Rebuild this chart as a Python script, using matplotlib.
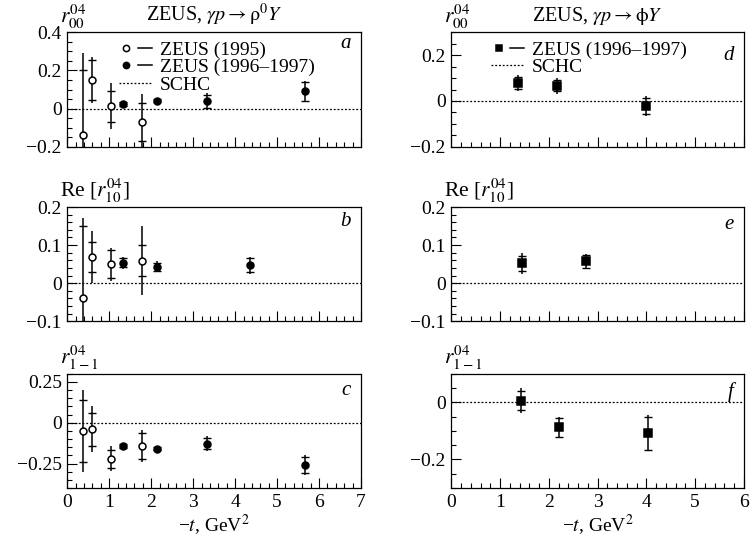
import matplotlib
matplotlib.use('Agg')
import matplotlib.pyplot as plt
from matplotlib.lines import Line2D
from matplotlib.legend_handler import HandlerTuple
from matplotlib.ticker import MultipleLocator, FuncFormatter

plt.rcParams['font.family'] = ['Liberation Serif', 'DejaVu Serif']
plt.rcParams['mathtext.fontset'] = 'stix'
plt.rcParams['font.size'] = 14

# rho0 photoproduction, ZEUS (1995), open circles
t95 = [0.37, 0.60, 1.04, 1.79]
r00_95 = [-0.14, 0.15, 0.012, -0.07]
r00_95_stat = [0.34, 0.105, 0.08, 0.10]
r00_95_tot = [0.43, 0.12, 0.12, 0.147]
r10_95 = [-0.04, 0.069, 0.05, 0.059]
r10_95_stat = [0.19, 0.04, 0.037, 0.04]
r10_95_tot = [0.21, 0.068, 0.043, 0.09]
r11_95 = [-0.05, -0.04, -0.22, -0.143]
r11_95_stat = [0.19, 0.10, 0.055, 0.077]
r11_95_tot = [0.25, 0.14, 0.078, 0.10]

# rho0 photoproduction, ZEUS (1996-1997), filled circles
t97_r00 = [1.33, 2.14, 3.32, 5.66]
r00_97 = [0.024, 0.042, 0.038, 0.09]
r00_97_stat = [0.012, 0.010, 0.035, 0.048]
r00_97_tot = [0.016, 0.014, 0.045, 0.055]
t97_r10 = [1.33, 2.14, 4.35]
r10_97 = [0.054, 0.043, 0.047]
r10_97_stat = [0.012, 0.010, 0.018]
r10_97_tot = [0.016, 0.014, 0.023]
t97_r11 = [1.33, 2.14, 3.32, 5.66]
r11_97 = [-0.145, -0.159, -0.128, -0.26]
r11_97_stat = [0.012, 0.010, 0.035, 0.05]
r11_97_tot = [0.02, 0.016, 0.045, 0.06]

# phi photoproduction, ZEUS (1996-1997), squares
tphi_r00 = [1.375, 2.16, 3.99]
r00_phi = [0.078, 0.067, -0.022]
r00_phi_stat = [0.025, 0.025, 0.035]
r00_phi_tot = [0.035, 0.035, 0.045]
tphi_r10 = [1.46, 2.76]
r10_phi = [0.052, 0.057]
r10_phi_stat = [0.02, 0.016]
r10_phi_tot = [0.027, 0.02]
tphi_r11 = [1.42, 2.2, 4.03]
r11_phi = [0.006, -0.087, -0.108]
r11_phi_stat = [0.033, 0.033, 0.058]
r11_phi_tot = [0.045, 0.036, 0.062]


def fmt(v, pos):
    if abs(v) < 1e-9:
        return '0'
    return ('%g' % v).replace('-', '\u2212')


def draw(ax, t, v, stat, tot, marker, face):
    ax.errorbar(t, v, yerr=tot, fmt='none', ecolor='k', elinewidth=1.1, capsize=0, zorder=2)
    ax.errorbar(t, v, yerr=stat, fmt='none', ecolor='k', elinewidth=0, capsize=2.6,
                capthick=1.0, zorder=2)
    ms = 5.5 if marker == 's' else 5
    ax.plot(t, v, ls='none', marker=marker, mfc=face, mec='k', mew=1.1, ms=ms, zorder=3)


def setup(ax, xmax, ylim, major, minor, ylabel, letter, ly, xlabels):
    ax.set_xlim(0, xmax)
    ax.set_ylim(*ylim)
    ax.axhline(0, color='k', lw=0.9, ls=(0, (1.5, 1.5)), zorder=1)
    ax.xaxis.set_major_locator(MultipleLocator(1))
    ax.xaxis.set_minor_locator(MultipleLocator(0.2))
    ax.yaxis.set_major_locator(MultipleLocator(major))
    ax.yaxis.set_minor_locator(MultipleLocator(minor))
    ax.yaxis.set_major_formatter(FuncFormatter(fmt))
    ax.tick_params(which='both', direction='in', top=False, right=False, width=0.8)
    ax.tick_params(which='major', length=7, pad=4)
    ax.tick_params(which='minor', length=3.5)
    if not xlabels:
        ax.tick_params(axis='x', labelbottom=False)
    else:
        ax.set_xlabel('\u2212$t$, GeV$^2$', labelpad=1)
    for s in ax.spines.values():
        s.set_linewidth(0.9)
    ax.text(-0.025, 1.015, ylabel, transform=ax.transAxes, ha='left', va='bottom',
            fontsize=15.5)
    ax.text(0.965, ly, letter, transform=ax.transAxes, ha='right', va='center',
            style='italic', fontsize=15)


fig = plt.figure(figsize=(7.53, 5.5), dpi=100)
lx, rx, w = 0.0894, 0.5993, 0.390
rows = [0.7333, 0.4158, 0.1127]
h = 0.2078

ax_a = fig.add_axes([lx, rows[0], w, h])
ax_b = fig.add_axes([lx, rows[1], w, h])
ax_c = fig.add_axes([lx, rows[2], w, h])
ax_d = fig.add_axes([rx, rows[0], 0.3887, h])
ax_e = fig.add_axes([rx, rows[1], 0.3887, h])
ax_f = fig.add_axes([rx, rows[2], 0.3887, h])

# rho0 panels
draw(ax_a, t95, r00_95, r00_95_stat, r00_95_tot, 'o', 'white')
draw(ax_a, t97_r00, r00_97, r00_97_stat, r00_97_tot, 'o', 'k')
draw(ax_b, t95, r10_95, r10_95_stat, r10_95_tot, 'o', 'white')
draw(ax_b, t97_r10, r10_97, r10_97_stat, r10_97_tot, 'o', 'k')
draw(ax_c, t95, r11_95, r11_95_stat, r11_95_tot, 'o', 'white')
draw(ax_c, t97_r11, r11_97, r11_97_stat, r11_97_tot, 'o', 'k')

setup(ax_a, 7, (-0.2, 0.4), 0.2, 0.05, '$r^{04}_{00}$', 'a', 0.9, False)
setup(ax_b, 7, (-0.1, 0.2), 0.1, 0.02, 'Re [$r^{04}_{10}$]', 'b', 0.87, False)
setup(ax_c, 7, (-0.4, 0.3), 0.25, 0.05, '$r^{04}_{1\u22121}$', 'c', 0.85, True)
ax_a.set_title(r'ZEUS, $\gamma p \rightarrow \mathrm{\rho}^0 Y$', pad=8, fontsize=14.5)

# phi panels
draw(ax_d, tphi_r00, r00_phi, r00_phi_stat, r00_phi_tot, 's', 'k')
draw(ax_e, tphi_r10, r10_phi, r10_phi_stat, r10_phi_tot, 's', 'k')
draw(ax_f, tphi_r11, r11_phi, r11_phi_stat, r11_phi_tot, 's', 'k')

setup(ax_d, 6, (-0.2, 0.3), 0.2, 0.05, '$r^{04}_{00}$', 'd', 0.8, False)
setup(ax_e, 6, (-0.1, 0.2), 0.1, 0.02, 'Re [$r^{04}_{10}$]', 'e', 0.85, False)
setup(ax_f, 6, (-0.3, 0.1), 0.2, 0.05, '$r^{04}_{1\u22121}$', 'f', 0.84, True)
ax_d.set_title(r'ZEUS, $\gamma p \rightarrow \mathrm{\phi} Y$', pad=8, fontsize=14.5)

# legends
dash = Line2D([], [], color='k', lw=1.1)
open_c = Line2D([], [], ls='none', marker='o', mfc='white', mec='k', mew=1.1, ms=4.5)
full_c = Line2D([], [], ls='none', marker='o', mfc='k', mec='k', mew=1.1, ms=4.5)
full_s = Line2D([], [], ls='none', marker='s', mfc='k', mec='k', mew=1.1, ms=4.5)
schc = Line2D([], [], color='k', lw=0.9, ls=(0, (1.5, 1.5)))

ax_a.legend([(open_c, dash), (full_c, dash), schc],
            ['ZEUS (1995)', 'ZEUS (1996\u20131997)', 'SCHC'],
            handler_map={tuple: HandlerTuple(ndivide=None, pad=0.2)},
            loc='upper left', bbox_to_anchor=(0.13, 1.045), frameon=False,
            handlelength=1.7, handletextpad=0.4, labelspacing=0.0, borderpad=0.2,
            fontsize=14)
ax_d.legend([(full_s, dash), schc],
            ['ZEUS (1996\u20131997)', 'SCHC'],
            handler_map={tuple: HandlerTuple(ndivide=None, pad=0.2)},
            loc='upper left', bbox_to_anchor=(0.09, 1.045), frameon=False,
            handlelength=1.7, handletextpad=0.4, labelspacing=0.0, borderpad=0.2,
            fontsize=14)

fig.savefig('out.png', dpi=100)
